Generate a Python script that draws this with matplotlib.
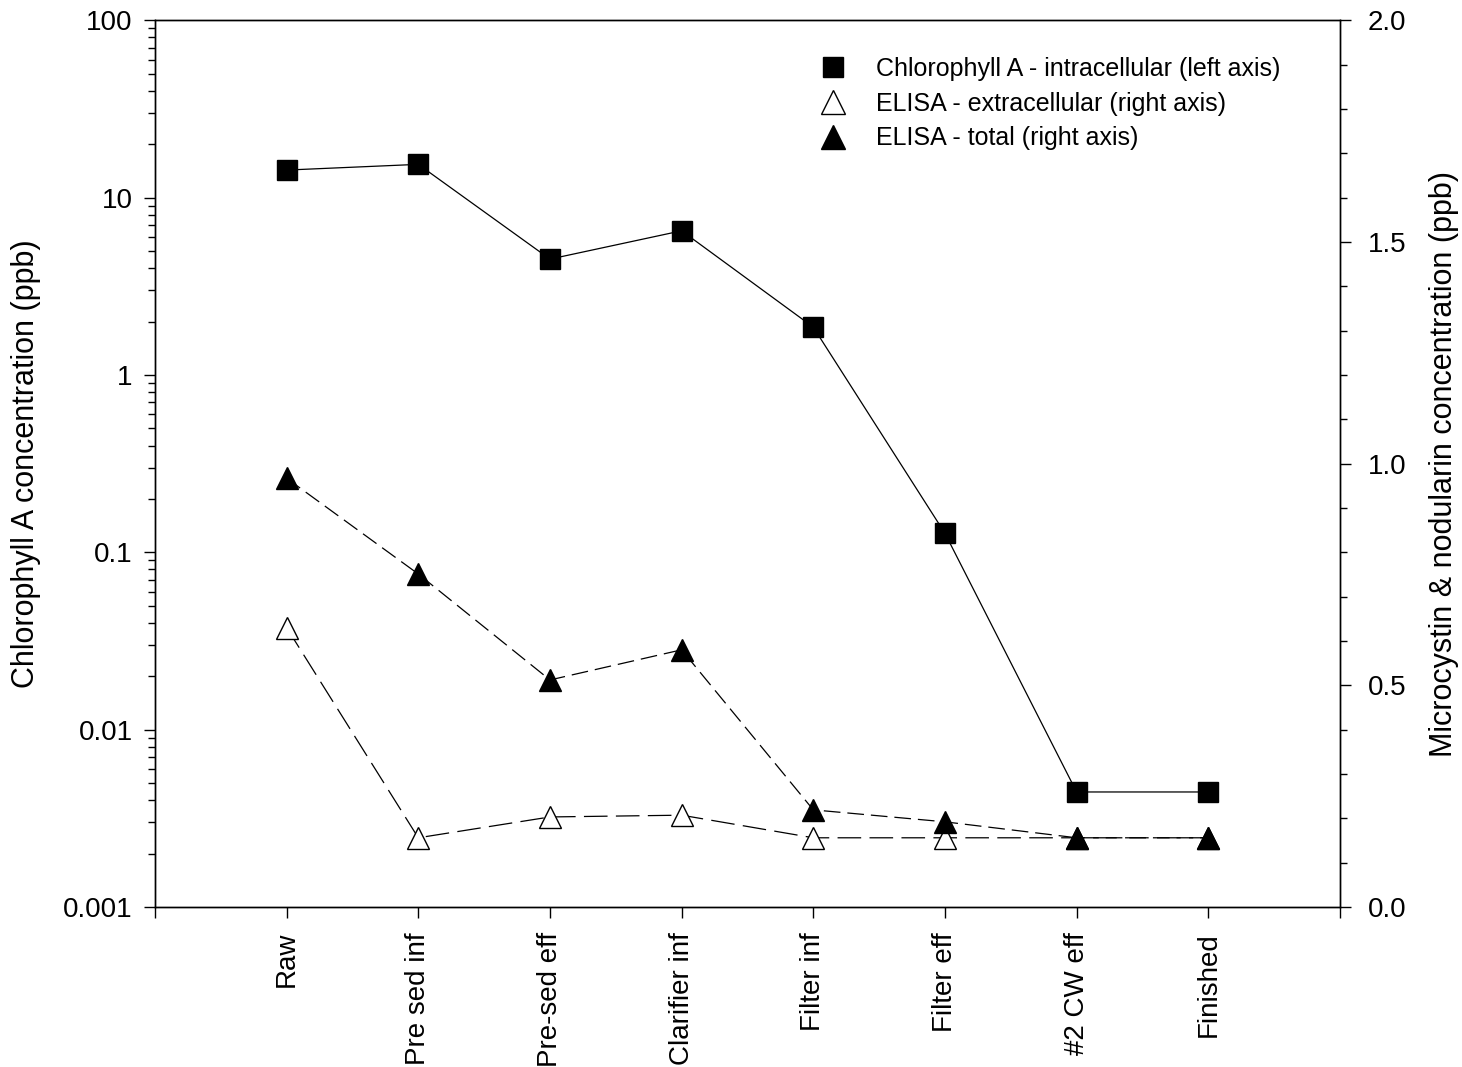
import matplotlib
matplotlib.use('Agg')
import matplotlib.pyplot as plt
from matplotlib.lines import Line2D
from matplotlib.ticker import LogLocator, MultipleLocator, FixedLocator, NullFormatter
import numpy as np

plt.rcParams['font.family'] = ['Liberation Sans', 'DejaVu Sans']
plt.rcParams['lines.scale_dashes'] = False

# sampling points along the treatment train
sites = ['Raw', 'Pre sed inf', 'Pre-sed eff', 'Clarifier inf',
         'Filter inf', 'Filter eff', '#2 CW eff', 'Finished']

# chlorophyll A, intracellular (ppb, left log axis)
chl_a = [14.3, 15.4, 4.5, 6.5, 1.86, 0.128, 0.00445, 0.00445]
# ELISA microcystin & nodularin (ppb, right axis)
elisa_extra = [0.63, 0.156, 0.203, 0.207, 0.156, 0.156, 0.156, 0.156]
elisa_total = [0.967, 0.751, 0.512, 0.580, 0.219, 0.192, 0.156, 0.156]

x = np.arange(1, len(sites) + 1)

fig = plt.figure(figsize=(14.62, 10.67), dpi=100)
ax = fig.add_axes([0.106, 0.15, 0.8105, 0.831])
ax2 = ax.twinx()

ax.plot(x, chl_a, color='black', lw=0.9, marker='s', ms=14.5,
        mfc='black', mec='black', zorder=3)
ax.set_yscale('log')
ax.set_ylim(0.001, 100)
ax.set_xlim(0, 9)

ax2.plot(x, elisa_extra, color='black', lw=0.9, dashes=(17, 6),
         marker='^', ms=16.5, mfc='white', mec='black', mew=1.0, zorder=3)
ax2.plot(x, elisa_total, color='black', lw=0.9, dashes=(12, 5),
         marker='^', ms=16.5, mfc='black', mec='black', zorder=4)
ax2.set_ylim(0, 2.0)

# left log axis
ax.yaxis.set_minor_locator(LogLocator(base=10, subs=np.arange(2, 10), numticks=20))
ax.yaxis.set_minor_formatter(NullFormatter())
ax.set_yticks([0.001, 0.01, 0.1, 1, 10, 100])
ax.set_yticklabels(['0.001', '0.01', '0.1', '1', '10', '100'])

# right linear axis
ax2.yaxis.set_minor_locator(MultipleLocator(0.1))
ax2.set_yticks([0, 0.5, 1.0, 1.5, 2.0])
ax2.set_yticklabels(['0.0', '0.5', '1.0', '1.5', '2.0'])

# bottom axis: category ticks plus the two ends
ax.xaxis.set_major_locator(FixedLocator(np.arange(0, 10)))
ax.set_xticklabels([''] + sites + [''], rotation=90)

for a in (ax, ax2):
    a.tick_params(which='both', direction='out', width=1, labelsize=20, color='black')
    a.tick_params(which='major', length=8, pad=8)
    a.tick_params(which='minor', length=5)
    for s in a.spines.values():
        s.set_linewidth(1.0)
ax.tick_params(axis='x', top=False, pad=10)
ax.tick_params(axis='y', right=False)
ax2.tick_params(axis='y', pad=12)

ax.set_ylabel('Chlorophyll A concentration (ppb)', fontsize=22, labelpad=16)
ax2.set_ylabel('Microcystin & nodularin concentration (ppb)', fontsize=22, labelpad=16)

handles = [
    Line2D([], [], ls='none', marker='s', ms=15, mfc='black', mec='black'),
    Line2D([], [], ls='none', marker='^', ms=17, mfc='white', mec='black', mew=1.0),
    Line2D([], [], ls='none', marker='^', ms=17, mfc='black', mec='black'),
]
labels = ['Chlorophyll A - intracellular (left axis)',
          'ELISA - extracellular (right axis)',
          'ELISA - total (right axis)']
ax2.legend(handles, labels, loc='upper left', bbox_to_anchor=(0.553, 0.970),
           frameon=False, fontsize=18, handlelength=1.0, handletextpad=1.25,
           labelspacing=0.43, borderaxespad=0)

fig.savefig('out.png', dpi=100)
